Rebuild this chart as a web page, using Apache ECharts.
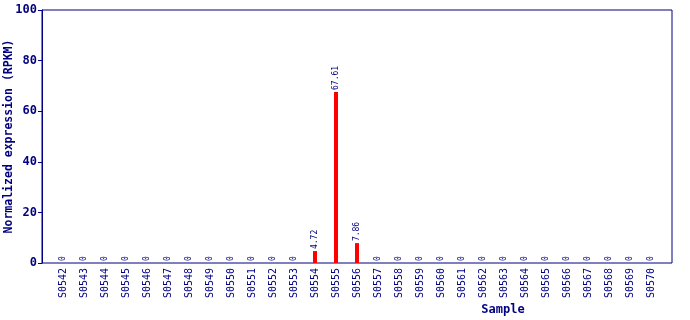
<!DOCTYPE html>
<html><head><meta charset="utf-8">
<script src="https://cdn.jsdelivr.net/npm/echarts@6/dist/echarts.min.js"></script>
<style>html,body{margin:0;padding:0;background:#fff}#c{width:690px;height:320px}</style>
</head><body><div id="c"></div>
<script>
var categories = ['S0542','S0543','S0544','S0545','S0546','S0547','S0548','S0549','S0550','S0551','S0552','S0553','S0554','S0555','S0556','S0557','S0558','S0559','S0560','S0561','S0562','S0563','S0564','S0565','S0566','S0567','S0568','S0569','S0570'];
var values = [0,0,0,0,0,0,0,0,0,0,0,0,4.72,67.61,7.86,0,0,0,0,0,0,0,0,0,0,0,0,0,0];
var yTicks = [0,20,40,60,80,100];
var navy = '#000080';
var chart = echarts.init(document.getElementById('c'));
chart.setOption({
  animation: false,
  grid: [
    {left: 42, right: 18, top: 10, bottom: 57, containLabel: false, outerBoundsMode: 'none',
      show: true, borderColor: navy, borderWidth: 1},
    {left: 52.5, right: 28.5, top: 10, bottom: 57, containLabel: false, outerBoundsMode: 'none'}
  ],
  xAxis: [
    {gridIndex: 0, type: 'value', min: 0, max: 1, show: false},
    {gridIndex: 1, type: 'category', data: categories, name: 'Sample', nameLocation: 'middle', nameGap: 41,
      nameMoveOverlap: false,
      nameTextStyle: {color: navy, fontFamily: 'DejaVu Sans Mono', fontWeight: 'bold', fontSize: 12, padding: [0,0,0,292]},
      axisLine: {show: false}, axisTick: {show: false},
      axisLabel: {rotate: 90, color: navy, fontFamily: 'DejaVu Sans Mono', fontSize: 10, margin: 5, interval: 0}}
  ],
  yAxis: [
    {gridIndex: 0, type: 'value', min: 0, max: 100, interval: 20, name: 'Normalized expression (RPKM)',
      nameLocation: 'middle', nameGap: 27, nameMoveOverlap: false,
      nameTextStyle: {color: navy, fontFamily: 'DejaVu Sans Mono', fontWeight: 'bold', fontSize: 11.5},
      axisLine: {show: true, lineStyle: {color: navy}}, axisTick: {show: true, length: 4, lineStyle: {color: navy}},
      splitLine: {show: false},
      axisLabel: {color: navy, fontFamily: 'DejaVu Sans Mono', fontWeight: 'bold', fontSize: 12, margin: 5,
        formatter: function(v){ return yTicks.indexOf(v) >= 0 ? String(v) : ''; }}},
    {gridIndex: 1, type: 'value', min: 0, max: 100, show: false, splitLine: {show: false}}
  ],
  series: [{
    type: 'bar', xAxisIndex: 1, yAxisIndex: 1, data: values, barWidth: 4, itemStyle: {color: '#ff0000'},
    label: {show: true, position: 'top', rotate: 90, align: 'left', verticalAlign: 'middle', distance: 2,
      color: navy, fontFamily: 'DejaVu Sans Mono', fontSize: 8,
      formatter: function(p){ return p.value === 0 ? '0' : p.value.toFixed(2); }}
  }]
});
</script></body></html>
